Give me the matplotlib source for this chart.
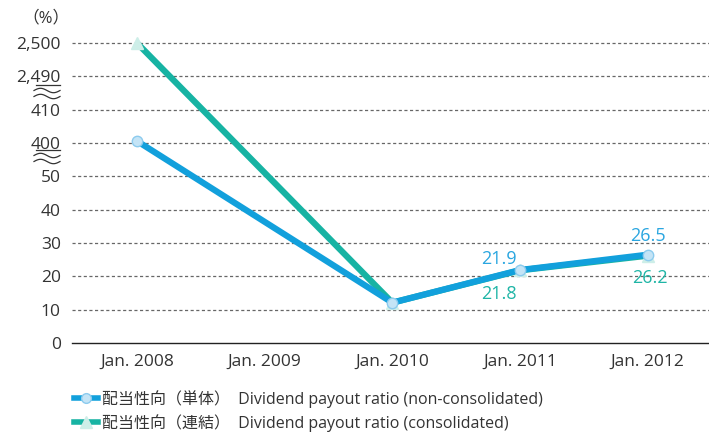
import numpy as np
import matplotlib.pyplot as plt
from matplotlib.lines import Line2D

years = ["Jan. 2008", "Jan. 2009", "Jan. 2010", "Jan. 2011", "Jan. 2012"]
single = [400.6, np.nan, 12.1, 21.9, 26.5]      # non-consolidated
consol = [2500.0, np.nan, 12.1, 21.8, 26.2]     # consolidated
yticks = [0, 10, 20, 30, 40, 50, 400, 410, 2490, 2500]
ytick_labels = ["0", "10", "20", "30", "40", "50", "400", "410", "2,490", "2,500"]

blue = "#12a0dc"
teal = "#17b3a3"
txt = "#333333"
fam = ["Open Sans", "Noto Sans CJK JP", "DejaVu Sans"]
plt.rcParams["font.family"] = fam

# broken axis: piecewise linear scale
kv = [-10, 0, 50, 400, 410, 2490, 2500, 2510]
kp = [-1, 0, 5, 6, 7, 8, 9, 10]
fwd = lambda v: np.interp(v, kv, kp)
inv = lambda p: np.interp(p, kp, kv)

W, H = 709, 434
fig = plt.figure(figsize=(W / 100, H / 100), dpi=100)
ax = fig.add_axes([72/W, 91/H, 637/W, 313/H])
ax.set_yscale("function", functions=(fwd, inv))
ax.set_ylim(0, 2503.9)
ax.set_xlim(-0.509, 4.48)

x = np.arange(len(years))
m1 = ~np.isnan(consol)
ax.plot(x[m1], np.array(consol)[m1], color=teal, lw=4.5, marker="^", ms=8,
        mfc="#cdeee8", mec="#cdeee8", clip_on=False, zorder=3, solid_capstyle="butt")
m2 = ~np.isnan(single)
ax.plot(x[m2], np.array(single)[m2], color=blue, lw=4.5, marker="o", ms=7.5,
        mfc="#c4e4f6", mec="#8ccbee", mew=1, clip_on=False, zorder=4, solid_capstyle="butt")

# value labels
for i, off in [(3, (-15, 8)), (4, (0, 13.7))]:
    ax.annotate(f"{single[i]}", (x[i], single[i]), xytext=off, textcoords="offset points",
                ha="center", va="center", color="#2aa6e0", fontsize=13)
for i, off in [(3, (-15, -17.3)), (4, (1.4, -16.1))]:
    ax.annotate(f"{consol[i]}", (x[i], consol[i]), xytext=off, textcoords="offset points",
                ha="center", va="center", color="#1fb5a6", fontsize=13)

ax.set_yticks(yticks)
ax.set_yticklabels(ytick_labels)
ax.set_xticks(x)
ax.set_xticklabels(years)
ax.tick_params(axis="both", length=0, labelsize=12.5, colors=txt)
ax.tick_params(axis="y", pad=8)
ax.tick_params(axis="x", pad=8)
ax.set_yticks([], minor=True)

for s in ["left", "right", "top"]:
    ax.spines[s].set_visible(False)
ax.spines["bottom"].set_color("#222222")
ax.spines["bottom"].set_linewidth(1)

for v in yticks[1:]:
    ax.axhline(v, color="#666666", lw=0.9, ls=(0, (2.5, 2)), zorder=1)

# break marks: underline + two waves (figure pixels)
def fpt(px, py):
    return np.asarray(px) / W, 1 - np.asarray(py) / H

t = np.linspace(0, 1, 40)
wx = 34 + 26 * t
for uy, w1, w2 in [(85, 90.5, 96.5), (150, 155.5, 161.5)]:
    fig.add_artist(Line2D(*fpt([36, 60], [uy, uy]), color=txt, lw=0.9))
    for wy in (w1, w2):
        fig.add_artist(Line2D(*fpt(wx, wy - 2.2 * np.sin(2 * np.pi * t)), color=txt, lw=0.9))

fig.text(46/W, 1 - 18/H, "（%）", ha="center", va="center", fontsize=12, color=txt)

handles = [
    Line2D([], [], color=blue, lw=4, marker="o", ms=7, mfc="#c4e4f6", mec="#8ccbee"),
    Line2D([], [], color=teal, lw=4, marker="^", ms=8, mfc="#cdeee8", mec="#cdeee8"),
]
labels = ["配当性向（単体）  Dividend payout ratio (non-consolidated)",
          "配当性向（連結）  Dividend payout ratio (consolidated)"]
fig.legend(handles, labels, loc="upper left", bbox_to_anchor=(0.084, 0.135), frameon=False,
           fontsize=11.5, handlelength=1.5, handletextpad=0.25, labelspacing=0.4,
           labelcolor=txt)

fig.savefig("out.png", dpi=100)
